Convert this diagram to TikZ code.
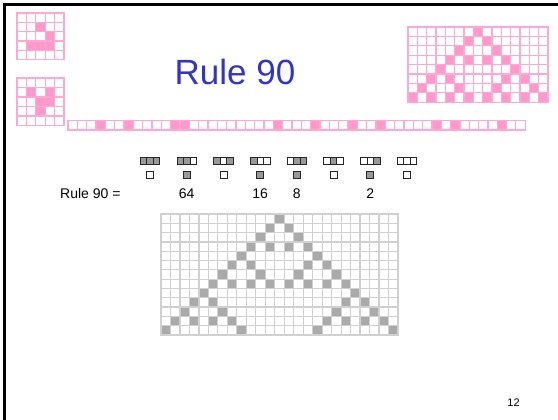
\documentclass[tikz,border=0pt]{standalone}
\usepackage{fontspec}
\setmainfont{Liberation Sans}
\usetikzlibrary{positioning}
\definecolor{lifepink}{RGB}{255,153,204}
\definecolor{linepink}{RGB}{255,168,212}
\definecolor{titleblue}{RGB}{51,51,204}
\definecolor{cellgray}{RGB}{170,170,170}
\definecolor{gridgray}{RGB}{208,208,208}
\definecolor{rulegray}{RGB}{153,153,153}

% empty cells of a grid, #1 columns, #2 rows
\newcommand{\cellgrid}[3]{%
  \foreach \i in {1,...,#1}{\foreach \j in {1,...,#2}{\draw[#3] (\i-1,\j-1) rectangle (\i,\j);}}}
% rule 90 from one cell: row / offsets from the centre
\def\sierprows{0/{0},1/{-1,1},2/{-2,2},3/{-3,-1,1,3},4/{-4,4},5/{-5,-3,3,5},6/{-6,-2,2,6},7/{-7,-5,-3,-1,1,3,5,7},8/{-8,8},9/{-9,-7,7,9},10/{-10,-6,6,10},11/{-11,-9,-7,-5,5,7,9,11},12/{-12,-4,4,12}}

\begin{document}
\begin{tikzpicture}[x=1pt, y=-1pt,
  pinkline/.style={draw=linepink, line width=1.3pt},
  grayline/.style={draw=gridgray, line width=1.2pt},
  rulecell/.style={draw=black!85, line width=0.55pt},
  label/.style={font=\fontsize{14pt}{16pt}\selectfont, anchor=base, inner sep=0pt},
]
\useasboundingbox (0,0) rectangle (558,420);
\fill[white] (0,0) rectangle (558,420);
\draw[line width=2.7pt] (4.3,420) -- (4.3,4.3) -- (558,4.3);

% gliders
\begin{scope}[shift={(17,13)}, x=9.4pt, y=-9.3pt]
  \foreach \c/\r in {2/1,3/2,1/3,2/3,3/3} \fill[lifepink] (\c,\r) rectangle ++(1,1);
  \cellgrid{5}{5}{pinkline}
\end{scope}
\begin{scope}[shift={(17,78)}, x=9.4pt, y=-9.5pt]
  \foreach \c/\r in {1/1,3/1,2/2,3/2,2/3} \fill[lifepink] (\c,\r) rectangle ++(1,1);
  \cellgrid{5}{5}{pinkline}
\end{scope}

% small triangle
\begin{scope}[shift={(408,27)}, x=9.33pt, y=-9.4pt]
  \foreach \r/\offs in \sierprows {\ifnum\r<8 \foreach \o in \offs {\fill[lifepink] (7+\o,\r) rectangle ++(1,1);}\fi}
  \cellgrid{15}{8}{pinkline}
\end{scope}

% strip
\begin{scope}[shift={(68,120.5)}, x=9.33pt, y=-9.5pt]
  \foreach \c in {3,6,11,12,22,26,30,33,39,41,46} \fill[lifepink] (\c,0) rectangle ++(1,1);
  \cellgrid{49}{1}{pinkline}
\end{scope}

\node[font=\fontsize{35pt}{40pt}\selectfont, text=titleblue, anchor=base, inner sep=0pt] (title) at (235,85) {Rule 90};

% rule table
\foreach \a/\b/\c/\o [count=\i from 0] in {1/1/1/0,1/1/0/1,1/0/1/0,1/0/0/1,0/1/1/1,0/1/0/0,0/0/1/1,0/0/0/0}{
  \pgfmathsetmacro{\cx}{150+36.7*\i}
  \foreach \bit [count=\k from 0] in {\a,\b,\c}{
    \ifnum\bit=1 \def\fc{rulegray}\else\def\fc{white}\fi
    \draw[rulecell, fill=\fc] (\cx-9.75+6.5*\k,157.5) rectangle ++(6.5,6.5);
  }
  \ifnum\o=1 \def\fc{rulegray}\else\def\fc{white}\fi
  \draw[rulecell, fill=\fc] (\cx-3.5,171.5) rectangle ++(7,7);
}
\node[label, anchor=base west] (rulename) at (60,198) {Rule 90 =};
\foreach \i/\w in {1/64,3/16,4/8,6/2}
  \node[label] (w\w) at (150+36.7*\i,198) {\w};

% rule 90 run
\begin{scope}[shift={(161,214)}, x=9.48pt, y=-9.3pt]
  \foreach \r/\offs in \sierprows {\foreach \o in \offs {\fill[cellgray] (12+\o,\r) rectangle ++(1,1);}}
  \cellgrid{25}{13}{grayline}
\end{scope}

\node[font=\fontsize{11pt}{12pt}\selectfont, anchor=base, inner sep=0pt] (pagenum) at (513.5,406) {12};
\end{tikzpicture}
\end{document}
